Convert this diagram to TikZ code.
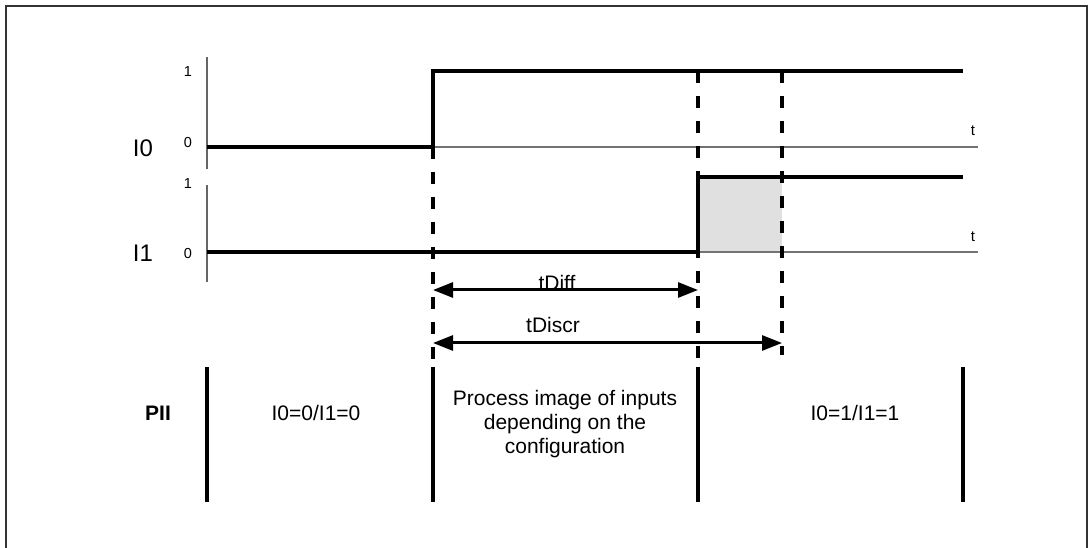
\documentclass[tikz,border=0pt]{standalone}
\usepackage{fontspec}
\setmainfont{Liberation Sans}
\usetikzlibrary{arrows.meta}
\definecolor{fillgray}{HTML}{E0E0E0}
\tikzset{
  sig/.style={line width=3.2pt, black},
  base/.style={line width=1.6pt, black!55},
  axis/.style={line width=1.5pt, black!60},
  guide/.style={line width=3.2pt, black, dash pattern=on 12pt off 13pt},
  sep/.style={line width=3.2pt, black},
  dim/.style={line width=3pt, black, {Triangle[length=20pt,width=15pt]}-{Triangle[length=20pt,width=15pt]}},
  big/.style={font=\fontsize{24}{28}\selectfont, inner sep=0pt},
  mid/.style={font=\fontsize{21}{24}\selectfont, inner sep=0pt},
  small/.style={font=\fontsize{14.5}{17}\selectfont, inner sep=0pt},
}
\begin{document}
\begin{tikzpicture}[x=1pt,y=-1pt]
\useasboundingbox (0,0) rectangle (1088,548);
% frame
\draw[line width=2.2pt, black!80] (6,560) -- (6,6) -- (1087,6) -- (1087,560);

% coordinates
\coordinate (aTop0) at (207,57);  \coordinate (aBot0) at (207,169);
\coordinate (aTop1) at (207,185); \coordinate (aBot1) at (207,282);
\coordinate (z0s) at (207,147); \coordinate (r0) at (433,147); \coordinate (h0) at (433,71); \coordinate (h0e) at (963,71); \coordinate (z0e) at (978,147);
\coordinate (z1s) at (207,252); \coordinate (r1) at (698,252); \coordinate (h1) at (698,177); \coordinate (h1e) at (963,177); \coordinate (z1e) at (978,252);
\coordinate (d1t) at (433,147); \coordinate (d1b) at (433,372);
\coordinate (d2t) at (698,71);  \coordinate (d2b) at (698,372);
\coordinate (d3t) at (782,71);  \coordinate (d3b) at (782,355);
\coordinate (tdA) at (433,290); \coordinate (tdB) at (698,290);
\coordinate (tcA) at (433,343); \coordinate (tcB) at (782,343);

% gray region
\fill[fillgray] (698,177) rectangle (782,252);

% axes
\draw[axis] (aTop0) -- (aBot0);
\draw[axis] (aTop1) -- (aBot1);
% baselines
\draw[base] (z0s) -- (z0e);
\draw[base] (z1s) -- (z1e);

% dashed guides
\draw[guide] (d1t) -- (d1b);
\draw[guide] (d2t) -- (d2b);
\draw[guide] (d3t) -- (d3b);

% signals
\draw[sig, line join=miter] (z0s) -- (r0) -- (h0) -- (h0e);
\draw[sig, line join=miter] (z1s) -- (r1) -- (h1) -- (h1e);

% dimension arrows
\draw[dim] (tdA) -- (tdB);
\draw[dim] (tcA) -- (tcB);
\node[mid, anchor=base] (tDiff) at (557,291) {tDiff};
\node[mid, anchor=base] (tDiscr) at (553,333) {tDiscr};

% labels
\node[big] (I0) at (143,148) {I0};
\node[big] (I1) at (143,253) {I1};
\node[small] (one0) at (188,72) {1};
\node[small] (zero0) at (188,143) {0};
\node[small] (one1) at (188,184) {1};
\node[small] (zero1) at (188,254) {0};
\node[font=\fontsize{15}{17}\selectfont, inner sep=0pt] (t0) at (973,131) {t};
\node[font=\fontsize{15}{17}\selectfont, inner sep=0pt] (t1) at (973,237) {t};

% PII section
\coordinate (s1t) at (207,367); \coordinate (s1b) at (207,502);
\coordinate (s2t) at (433,367); \coordinate (s2b) at (433,502);
\coordinate (s3t) at (698,367); \coordinate (s3b) at (698,502);
\coordinate (s4t) at (963,367); \coordinate (s4b) at (963,502);
\draw[sep] (s1t) -- (s1b);
\draw[sep] (s2t) -- (s2b);
\draw[sep] (s3t) -- (s3b);
\draw[sep] (s4t) -- (s4b);

\node[mid, font=\fontsize{21}{24}\selectfont\bfseries] (PII) at (158,413) {PII};
\node[mid] (st0) at (316,413) {I0=0/I1=0};
\node[mid, align=center] (stm) at (565,424) {Process image of inputs\\depending on the\\configuration};
\node[mid] (st1) at (855,413) {I0=1/I1=1};
\end{tikzpicture}
\end{document}
